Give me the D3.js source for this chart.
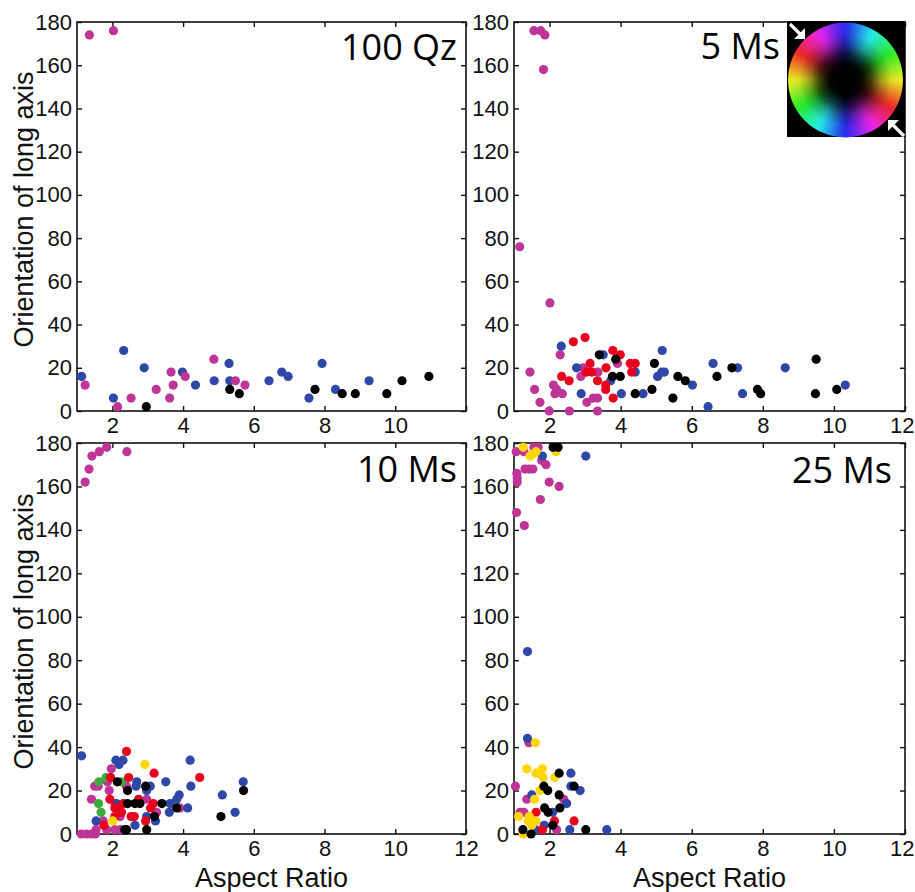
<!DOCTYPE html>
<html>
<head>
<meta charset="utf-8">
<script src="https://cdn.jsdelivr.net/npm/d3@7"></script>
<style>
  html, body { margin: 0; padding: 0; background: #fff; }
  svg { display: block; }
</style>
</head>
<body>
<div id="chart"></div>
<script>
// ---------------- DATA (aspect ratio, orientation in degrees) ----------------
const xTickValues = [2, 4, 6, 8, 10, 12];
const yTickValues = [0, 20, 40, 60, 80, 100, 120, 140, 160, 180];
const panelLabels = ["100 Qz", "5 Ms", "10 Ms", "25 Ms"];
const xAxisTitle = "Aspect Ratio";
const yAxisTitle = "Orientation of long axis";

// 100 Qz
const qz100_magenta = [[1.35,174],[2.03,176],[1.23,12],[2.15,2],[2.53,6],[3.24,10],[3.62,6],[3.66,18],[3.72,12],[4.06,16],[4.87,24],[5.48,14],[5.75,12]];
const qz100_blue = [[1.13,16],[2.03,6],[2.32,28],[2.9,20],[3.98,18],[4.35,12],[4.88,14],[5.3,22],[5.32,14],[6.43,14],[6.79,18],[6.97,16],[7.56,6],[7.93,22],[8.31,10],[9.26,14]];
const qz100_black = [[2.96,2],[5.32,10],[5.59,8],[7.73,10],[8.5,8],[8.87,8],[9.76,8],[10.19,14],[10.95,16]];

// 5 Ms
const ms5_magenta = [[1.56,176],[1.75,176],[1.87,174],[1.83,158],[1.16,76],[2.01,50],[1.45,18],[1.58,10],[1.73,4],[1.99,0],[2.11,12],[2.15,8],[2.2,10],[2.3,26],[2.36,8],[2.56,0],[2.88,16],[2.95,20],[3.05,4],[3.23,6],[3.35,6],[3.36,18],[3.35,0],[3.91,22]];
const ms5_blue = [[2.33,30],[2.76,20],[2.89,8],[3.51,26],[3.72,14],[4.02,8],[4.41,18],[4.63,8],[5.04,16],[5.16,18],[5.17,28],[5.23,18],[6.02,12],[6.46,2],[6.6,22],[7.29,20],[7.43,8],[8.63,20],[10.32,12]];
const ms5_red = [[2.67,32],[3.0,34],[2.34,16],[2.55,14],[3.14,22],[3.03,18],[3.19,18],[3.35,14],[3.58,12],[3.58,10],[3.59,20],[3.78,28],[3.99,26],[3.79,6],[4.27,22],[4.41,22],[4.31,18]];
const ms5_black = [[3.4,26],[3.86,24],[3.77,16],[3.99,16],[4.41,8],[4.88,10],[4.95,22],[5.47,6],[5.61,16],[5.82,14],[6.71,16],[7.13,20],[7.85,10],[7.94,8],[9.5,24],[9.48,8],[10.08,10]];

// 10 Ms
const ms10_magenta = [[1.23,162],[1.34,168],[1.42,174],[1.63,176],[1.84,178],[2.41,176],[1.12,0],[1.27,0],[1.41,0],[1.52,0],[1.54,2],[1.41,16],[1.5,22],[1.6,22],[1.97,30],[1.91,20],[1.86,24],[2.07,14],[1.84,2],[2.07,2],[2.22,2],[2.22,8],[2.4,22],[2.97,16],[3.25,10],[3.91,12],[1.74,6]];
const ms10_blue = [[1.13,36],[1.54,6],[2.1,34],[2.19,32],[2.3,34],[2.64,4],[2.69,24],[2.67,22],[2.97,20],[3.07,22],[2.97,8],[3.22,6],[3.51,24],[3.61,10],[3.63,14],[3.82,16],[3.89,18],[4.13,12],[4.2,34],[4.22,22],[5.11,18],[5.47,10],[5.7,24],[2.12,14]];
const ms10_red = [[2.4,38],[3.18,28],[4.47,26],[1.95,26],[2.46,26],[1.93,16],[1.76,4],[2.07,12],[2.19,12],[2.31,14],[2.26,10],[2.07,8],[2.53,8],[2.62,8],[2.74,16],[2.94,6],[3.08,12],[3.16,14]];
const ms10_green = [[1.62,24],[1.82,26],[1.61,14],[1.68,10],[2.26,24]];
const ms10_yellow = [[2.92,32],[2.01,6]];
const ms10_black = [[2.14,24],[2.43,20],[2.43,14],[2.64,14],[2.78,14],[2.94,22],[2.35,2],[2.4,2],[2.97,2],[3.19,8],[3.4,14],[3.82,12],[5.07,8],[5.71,20]];

// 25 Ms
const ms25_magenta = [[1.06,176],[1.28,176],[1.56,178],[1.68,178],[1.78,172],[1.9,170],[1.08,166],[1.09,164],[1.09,162],[1.31,168],[1.42,168],[1.53,168],[1.99,162],[2.27,160],[1.74,154],[1.07,148],[1.29,142],[1.42,42],[1.04,22],[1.36,16],[2.4,16],[1.17,10],[1.28,10],[2.2,2]];
const ms25_blue = [[3.02,174],[1.8,174],[1.38,84],[1.38,44],[2.6,28],[2.6,22],[2.86,20],[1.5,18],[2.48,14],[2.09,10],[1.85,4],[2.57,2],[3.61,2],[1.6,2]];
const ms25_red = [[1.62,10],[1.8,2],[2.14,6],[2.69,6]];
const ms25_yellow = [[1.26,178],[1.45,174],[1.54,175],[1.62,176],[2.18,176],[1.6,42],[1.36,30],[1.8,30],[1.62,28],[1.82,26],[2.15,26],[1.73,20],[1.58,16],[1.13,8],[1.43,8],[1.4,6],[1.62,6],[1.5,4],[1.26,0]];
const ms25_black = [[2.1,178],[2.24,178],[2.27,28],[1.84,22],[1.95,20],[2.69,22],[2.27,18],[1.86,12],[2.29,12],[1.96,10],[1.25,2],[1.48,0],[2.09,4],[3.02,2]];

// ---------------- STYLE ----------------
const colors = {
  magenta: "#bf3497",
  blue: "#2f47a6",
  red: "#e8001c",
  green: "#3fa93a",
  yellow: "#ffd600",
  black: "#000000"
};

const panels = [
  { label: panelLabels[0], left: 77, top: 22, right: 466, bottom: 411, showYTitle: true, showXTitle: false, hideLastX: true,
    labelX: 457, labelY: 60,
    series: [["blue", qz100_blue], ["magenta", qz100_magenta], ["black", qz100_black]] },
  { label: panelLabels[1], left: 514, top: 22, right: 905, bottom: 411, showYTitle: false, showXTitle: false, hideLastX: false,
    labelX: 780, labelY: 59, wheel: true,
    series: [["magenta", ms5_magenta], ["blue", ms5_blue], ["red", ms5_red], ["black", ms5_black]] },
  { label: panelLabels[2], left: 77, top: 443, right: 466, bottom: 834, showYTitle: true, showXTitle: true, hideLastX: false,
    labelX: 457, labelY: 482,
    series: [["magenta", ms10_magenta], ["blue", ms10_blue], ["green", ms10_green], ["red", ms10_red], ["black", ms10_black], ["yellow", ms10_yellow]] },
  { label: panelLabels[3], left: 514, top: 443, right: 905, bottom: 834, showYTitle: false, showXTitle: true, hideLastX: false,
    labelX: 892, labelY: 483,
    series: [["magenta", ms25_magenta], ["blue", ms25_blue], ["red", ms25_red], ["yellow", ms25_yellow], ["black", ms25_black]] }
];

const W = 915, H = 892;
const tickFont = "'Liberation Sans', Arial, Helvetica, sans-serif";
const svg = d3.select("#chart").append("svg")
  .attr("width", W).attr("height", H)
  .attr("viewBox", `0 0 ${W} ${H}`);
svg.append("rect").attr("width", W).attr("height", H).attr("fill", "#fff");
const defs = svg.append("defs");

panels.forEach((p, i) => {
  const x = d3.scaleLinear().domain([1, 12]).range([p.left, p.right]);
  const y = d3.scaleLinear().domain([0, 180]).range([p.bottom, p.top]);
  const g = svg.append("g").attr("class", "panel");

  const styleAxis = sel => {
    sel.select(".domain").remove();
    sel.selectAll(".tick line").attr("stroke", "#111").attr("stroke-width", 1.4);
    sel.selectAll(".tick text").attr("fill", "#111")
      .style("font-family", tickFont).style("font-size", "22px");
  };

  const bottomAxis = g.append("g").attr("transform", `translate(0,${p.bottom})`)
    .call(d3.axisBottom(x).tickValues(xTickValues).tickSize(-5).tickPadding(6.5)
      .tickFormat(d => (p.hideLastX && d === 12) ? "" : d3.format("d")(d)))
    .call(styleAxis);
  // keep the last label inside the page when it sits on the page edge
  bottomAxis.selectAll(".tick text")
    .filter(d => d === 12 && x(12) + 12 > W)
    .attr("text-anchor", "end").attr("x", W - 1 - x(12));

  g.append("g").attr("transform", `translate(0,${p.top})`)
    .call(d3.axisTop(x).tickValues(xTickValues).tickSize(-5).tickFormat(""))
    .call(styleAxis);
  g.append("g").attr("transform", `translate(${p.left},0)`)
    .call(d3.axisLeft(y).tickValues(yTickValues).tickSize(-5).tickPadding(5))
    .call(styleAxis);
  g.append("g").attr("transform", `translate(${p.right},0)`)
    .call(d3.axisRight(y).tickValues(yTickValues).tickSize(-5).tickFormat(""))
    .call(styleAxis);

  g.append("rect")
    .attr("x", p.left).attr("y", p.top)
    .attr("width", p.right - p.left).attr("height", p.bottom - p.top)
    .attr("fill", "none").attr("stroke", "#111").attr("stroke-width", 1.6);

  p.series.forEach(([c, data]) => {
    g.append("g").selectAll("circle").data(data).enter().append("circle")
      .attr("cx", d => x(d[0])).attr("cy", d => y(d[1]))
      .attr("r", 4.6).attr("fill", colors[c]);
  });

  g.append("text")
    .attr("x", p.labelX).attr("y", p.labelY)
    .attr("text-anchor", "end")
    .style("font-family", "'Open Sans', 'Noto Sans', sans-serif")
    .style("font-size", "36px").attr("fill", "#000")
    .text(p.label);

  if (p.showYTitle) {
    const cy = (p.top + p.bottom) / 2 - 7;
    g.append("text")
      .attr("transform", `translate(33,${cy}) rotate(-90)`)
      .attr("text-anchor", "middle")
      .style("font-family", tickFont).style("font-size", "27px").attr("fill", "#111")
      .text(yAxisTitle);
  }
  if (p.showXTitle) {
    g.append("text")
      .attr("x", (p.left + p.right) / 2).attr("y", 887)
      .attr("text-anchor", "middle")
      .style("font-family", tickFont).style("font-size", "27px").attr("fill", "#111")
      .text(xAxisTitle);
  }

  if (p.wheel) drawWheel();
});

// ---------------- colour wheel inset ----------------
function drawWheel() {
  const bx = 787, by = 21, bw = 118, bh = 116;
  const cx = 845.5, cy = 80, r = 57.5;
  const wg = svg.append("g");
  wg.append("rect").attr("x", bx).attr("y", by).attr("width", bw).attr("height", bh).attr("fill", "#000");

  const rg = defs.append("radialGradient").attr("id", "wheelShade")
    .attr("cx", "50%").attr("cy", "50%").attr("r", "50%");
  [[0, 1], [0.28, 0.97], [0.45, 0.7], [0.62, 0.3], [0.8, 0.05], [1, 0]].forEach(([o, a]) => {
    rg.append("stop").attr("offset", o).attr("stop-color", "#000").attr("stop-opacity", a);
  });
  defs.append("clipPath").attr("id", "wheelClip")
    .append("circle").attr("cx", cx).attr("cy", cy).attr("r", r);
  defs.append("filter").attr("id", "wheelBlur")
    .attr("x", "-10%").attr("y", "-10%").attr("width", "120%").attr("height", "120%")
    .append("feGaussianBlur").attr("stdDeviation", 2.2);

  const arc = d3.arc().innerRadius(0).outerRadius(r + 4);
  const segs = d3.range(0, 360, 1);
  const clipG = wg.append("g").attr("clip-path", "url(#wheelClip)");
  const ring = clipG.append("g").attr("transform", `translate(${cx},${cy})`)
    .attr("filter", "url(#wheelBlur)");
  ring.selectAll("path").data(segs).enter().append("path")
    .attr("d", a => arc({ startAngle: a * Math.PI / 180, endAngle: (a + 1.8) * Math.PI / 180 }))
    .attr("fill", a => {
      const theta = 90 - (a + 0.5);          // math angle, ccw from +x
      const hue = ((60 + 2 * theta) % 360 + 360) % 360;
      return d3.hsl(hue, 0.88, 0.55).toString();
    });
  clipG.append("circle").attr("cx", cx).attr("cy", cy).attr("r", r).attr("fill", "url(#wheelShade)");

  const arrow = (tail, tip, dir) => {
    wg.append("line")
      .attr("x1", tail[0]).attr("y1", tail[1])
      .attr("x2", tip[0] - dir * 4).attr("y2", tip[1] - dir * 4)
      .attr("stroke", "#fff").attr("stroke-width", 3.2);
    wg.append("path")
      .attr("d", `M${tip[0]},${tip[1]} L${tip[0] - dir * 11},${tip[1]} L${tip[0]},${tip[1] - dir * 11} Z`)
      .attr("fill", "#fff");
  };
  arrow([790, 24], [805, 39], 1);
  arrow([904, 136], [888, 120], -1);
}
</script>
</body>
</html>
